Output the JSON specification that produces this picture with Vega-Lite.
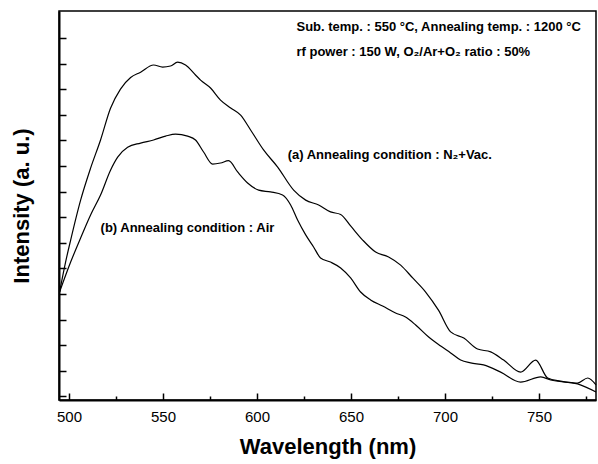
{
  "$schema": "https://vega.github.io/schema/vega-lite/v6.json",
  "width": 537,
  "height": 389,
  "autosize": "none",
  "padding": {"left": 59, "top": 11, "right": 2, "bottom": 64},
  "config": {
    "view": {"stroke": "black", "strokeWidth": 1.5},
    "font": "Liberation Sans"
  },
  "datasets": {
    "spectra": [
      {"condition": "a", "wavelength": 495.0, "intensity": 4.22},
      {"condition": "a", "wavelength": 498.2, "intensity": 5.39},
      {"condition": "a", "wavelength": 500.9, "intensity": 6.25},
      {"condition": "a", "wavelength": 506.2, "intensity": 7.81},
      {"condition": "a", "wavelength": 511.5, "intensity": 9.06},
      {"condition": "a", "wavelength": 516.8, "intensity": 10.16},
      {"condition": "a", "wavelength": 522.1, "intensity": 11.4},
      {"condition": "a", "wavelength": 527.4, "intensity": 12.15},
      {"condition": "a", "wavelength": 532.8, "intensity": 12.6},
      {"condition": "a", "wavelength": 538.1, "intensity": 12.81},
      {"condition": "a", "wavelength": 545.0, "intensity": 13.09},
      {"condition": "a", "wavelength": 549.8, "intensity": 13.01},
      {"condition": "a", "wavelength": 554.0, "intensity": 13.05},
      {"condition": "a", "wavelength": 557.8, "intensity": 13.2},
      {"condition": "a", "wavelength": 562.0, "intensity": 13.09},
      {"condition": "a", "wavelength": 567.3, "intensity": 12.7},
      {"condition": "a", "wavelength": 570.0, "intensity": 12.5},
      {"condition": "a", "wavelength": 575.3, "intensity": 12.19},
      {"condition": "a", "wavelength": 580.6, "intensity": 11.72},
      {"condition": "a", "wavelength": 586.0, "intensity": 11.41},
      {"condition": "a", "wavelength": 591.3, "intensity": 11.13},
      {"condition": "a", "wavelength": 596.6, "intensity": 10.55},
      {"condition": "a", "wavelength": 603.5, "intensity": 9.77},
      {"condition": "a", "wavelength": 611.0, "intensity": 9.1},
      {"condition": "a", "wavelength": 619.5, "intensity": 8.2},
      {"condition": "a", "wavelength": 625.9, "intensity": 7.81},
      {"condition": "a", "wavelength": 632.8, "intensity": 7.62},
      {"condition": "a", "wavelength": 639.1, "intensity": 7.35},
      {"condition": "a", "wavelength": 644.5, "intensity": 7.25},
      {"condition": "a", "wavelength": 649.8, "intensity": 6.8},
      {"condition": "a", "wavelength": 656.2, "intensity": 6.25},
      {"condition": "a", "wavelength": 663.1, "intensity": 5.78},
      {"condition": "a", "wavelength": 670.0, "intensity": 5.59},
      {"condition": "a", "wavelength": 676.4, "intensity": 5.27},
      {"condition": "a", "wavelength": 682.8, "intensity": 4.77},
      {"condition": "a", "wavelength": 689.7, "intensity": 4.22},
      {"condition": "a", "wavelength": 696.6, "intensity": 3.5},
      {"condition": "a", "wavelength": 703.0, "intensity": 2.66},
      {"condition": "a", "wavelength": 710.0, "intensity": 2.42},
      {"condition": "a", "wavelength": 717.3, "intensity": 1.99},
      {"condition": "a", "wavelength": 724.3, "intensity": 1.88},
      {"condition": "a", "wavelength": 731.2, "intensity": 1.56},
      {"condition": "a", "wavelength": 740.2, "intensity": 1.09},
      {"condition": "a", "wavelength": 748.2, "intensity": 1.56},
      {"condition": "a", "wavelength": 754.6, "intensity": 0.86},
      {"condition": "a", "wavelength": 761.5, "intensity": 0.74},
      {"condition": "a", "wavelength": 770.5, "intensity": 0.66},
      {"condition": "a", "wavelength": 775.9, "intensity": 0.86},
      {"condition": "a", "wavelength": 780.3, "intensity": 0.59},
      {"condition": "b", "wavelength": 495.0, "intensity": 4.22},
      {"condition": "b", "wavelength": 500.9, "intensity": 5.39},
      {"condition": "b", "wavelength": 506.2, "intensity": 6.33},
      {"condition": "b", "wavelength": 511.5, "intensity": 7.23},
      {"condition": "b", "wavelength": 516.8, "intensity": 8.01},
      {"condition": "b", "wavelength": 522.1, "intensity": 8.98},
      {"condition": "b", "wavelength": 525.9, "intensity": 9.49},
      {"condition": "b", "wavelength": 531.2, "intensity": 9.88},
      {"condition": "b", "wavelength": 538.1, "intensity": 10.04},
      {"condition": "b", "wavelength": 545.0, "intensity": 10.16},
      {"condition": "b", "wavelength": 551.4, "intensity": 10.31},
      {"condition": "b", "wavelength": 556.7, "intensity": 10.39},
      {"condition": "b", "wavelength": 563.1, "intensity": 10.31},
      {"condition": "b", "wavelength": 567.3, "intensity": 10.16},
      {"condition": "b", "wavelength": 571.6, "intensity": 9.69},
      {"condition": "b", "wavelength": 576.4, "intensity": 9.22},
      {"condition": "b", "wavelength": 580.6, "intensity": 9.26},
      {"condition": "b", "wavelength": 584.9, "intensity": 9.35},
      {"condition": "b", "wavelength": 589.7, "intensity": 8.91},
      {"condition": "b", "wavelength": 595.0, "intensity": 8.48},
      {"condition": "b", "wavelength": 600.9, "intensity": 8.2},
      {"condition": "b", "wavelength": 607.2, "intensity": 8.13},
      {"condition": "b", "wavelength": 613.6, "intensity": 8.01},
      {"condition": "b", "wavelength": 617.9, "intensity": 7.62},
      {"condition": "b", "wavelength": 621.6, "intensity": 7.03},
      {"condition": "b", "wavelength": 625.9, "intensity": 6.45},
      {"condition": "b", "wavelength": 630.1, "intensity": 5.98},
      {"condition": "b", "wavelength": 633.8, "intensity": 5.55},
      {"condition": "b", "wavelength": 639.1, "intensity": 5.39},
      {"condition": "b", "wavelength": 644.5, "intensity": 5.16},
      {"condition": "b", "wavelength": 649.8, "intensity": 4.77},
      {"condition": "b", "wavelength": 655.1, "intensity": 4.22},
      {"condition": "b", "wavelength": 660.4, "intensity": 3.91},
      {"condition": "b", "wavelength": 666.8, "intensity": 3.67},
      {"condition": "b", "wavelength": 673.7, "intensity": 3.4},
      {"condition": "b", "wavelength": 679.0, "intensity": 3.24},
      {"condition": "b", "wavelength": 684.4, "intensity": 2.93},
      {"condition": "b", "wavelength": 691.3, "intensity": 2.46},
      {"condition": "b", "wavelength": 697.7, "intensity": 2.11},
      {"condition": "b", "wavelength": 703.0, "intensity": 1.84},
      {"condition": "b", "wavelength": 708.3, "intensity": 1.56},
      {"condition": "b", "wavelength": 713.6, "intensity": 1.45},
      {"condition": "b", "wavelength": 720.5, "intensity": 1.37},
      {"condition": "b", "wavelength": 729.6, "intensity": 1.09},
      {"condition": "b", "wavelength": 740.2, "intensity": 0.7},
      {"condition": "b", "wavelength": 750.9, "intensity": 0.9},
      {"condition": "b", "wavelength": 756.2, "intensity": 0.78},
      {"condition": "b", "wavelength": 770.5, "intensity": 0.63},
      {"condition": "b", "wavelength": 780.3, "intensity": 0.31}
    ],
    "notes": [
      {"wavelength": 621.0, "intensity": 14.57, "label": "Sub. temp. : 550 °C, Annealing temp. : 1200 °C"},
      {"wavelength": 621.0, "intensity": 13.59, "label": "rf power : 150 W, O₂/Ar+O₂ ratio : 50%"},
      {"wavelength": 616.3, "intensity": 9.57, "label": "(a) Annealing condition : N₂+Vac."},
      {"wavelength": 516.8, "intensity": 6.72, "label": "(b) Annealing condition : Air"}
    ]
  },
  "layer": [
    {
      "data": {"name": "spectra"},
      "mark": {"type": "line", "color": "black", "strokeWidth": 1.2, "interpolate": "monotone"},
      "encoding": {
        "x": {
          "field": "wavelength",
          "type": "quantitative",
          "scale": {"domain": [494.7, 780.3], "nice": false, "zero": false},
          "axis": {
            "values": [500, 525, 550, 575, 600, 625, 650, 675, 700, 725, 750, 775],
            "tickCount": 30,
            "labelExpr": "datum.value % 50 === 0 ? datum.label : ''",
            "tickSize": {"condition": {"test": "datum.value % 50 === 0", "value": -7}, "value": -4},
            "tickColor": "black",
            "tickWidth": 1.5,
            "domainColor": "black",
            "domainWidth": 2,
            "grid": false,
            "labelFont": "Liberation Sans",
            "labelFontSize": 15,
            "labelColor": "black",
            "labelPadding": 16,
            "title": "Wavelength (nm)",
            "titleFont": "Liberation Sans",
            "titleFontSize": 22,
            "titleFontWeight": "bold",
            "titleColor": "black",
            "titlePadding": 12
          }
        },
        "y": {
          "field": "intensity",
          "type": "quantitative",
          "scale": {"domain": [0, 15.2], "nice": false, "zero": false},
          "axis": {
            "values": [0.14, 1.14, 2.14, 3.14, 4.14, 5.14, 6.14, 7.14, 8.14, 9.14, 10.14, 11.14, 12.14, 13.14, 14.14],
            "tickCount": 30,
            "labels": false,
            "tickSize": -7,
            "tickColor": "black",
            "tickWidth": 1.5,
            "domainColor": "black",
            "domainWidth": 2,
            "grid": false,
            "title": "Intensity (a. u.)",
            "titleFont": "Liberation Sans",
            "titleFontSize": 22,
            "titleFontWeight": "bold",
            "titleColor": "black",
            "titlePadding": 25
          }
        },
        "detail": {"field": "condition"}
      }
    },
    {
      "data": {"name": "notes"},
      "mark": {"type": "text", "align": "left", "baseline": "middle", "font": "Liberation Sans", "fontWeight": "bold", "fontSize": 13, "color": "black"},
      "encoding": {
        "x": {"field": "wavelength", "type": "quantitative"},
        "y": {"field": "intensity", "type": "quantitative"},
        "text": {"field": "label"}
      }
    }
  ]
}
